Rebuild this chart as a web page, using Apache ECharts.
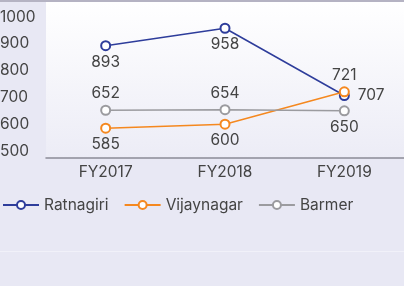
<!DOCTYPE html>
<html><head><meta charset="utf-8">
<script src="https://cdn.jsdelivr.net/npm/echarts@6/dist/echarts.min.js"></script>
<style>html,body{margin:0;padding:0;background:#e8e8f4;}#c{width:404px;height:286px;}</style>
</head><body><div id="c"></div>
<script>
const categories = ['FY2017', 'FY2018', 'FY2019'];
const ratnagiri = [893, 958, 707];
const vijaynagar = [585, 600, 721];
const barmer = [652, 654, 650];
const yTicks = [500, 600, 700, 800, 900, 1000];

const ratnagiriPos = ['bottom', 'bottom', 'right'];
const vijaynagarPos = ['bottom', 'bottom', 'top'];
const barmerPos = ['top', 'top', 'bottom'];

const FONT = 'Inter';
const FS = 15.5;

function mk(name, vals, pos, color) {
  return {
    name: name, type: 'line',
    data: vals.map((v, i) => ({value: v, label: {position: pos[i], distance: pos[i] === 'right' ? 8 : 3}})),
    symbol: 'emptyCircle', symbolSize: 9,
    lineStyle: {color: color, width: 1.5},
    itemStyle: {color: color, borderWidth: 1.5},
    label: {show: true, color: '#444', fontSize: FS, fontFamily: FONT},
    emphasis: {disabled: true}, animation: false
  };
}

const chart = echarts.init(document.getElementById('c'));
chart.setOption({
  backgroundColor: '#e8e8f4',
  animation: false,
  textStyle: {fontFamily: FONT},
  graphic: [
    {type: 'rect', shape: {x: 46, y: 2, width: 358, height: 156}, z: -10,
     style: {fill: new echarts.graphic.LinearGradient(0, 0, 0, 1, [{offset: 0, color: '#ffffff'}, {offset: 1, color: '#ececf6'}])}},
    {type: 'rect', shape: {x: 0, y: 0, width: 404, height: 2}, z: -5, style: {fill: '#b5b3c3'}},
    {type: 'rect', shape: {x: 0, y: 251, width: 404, height: 1}, z: -5, style: {fill: '#f1f1f9'}}
  ],
  grid: {left: 46, right: 0, top: 17, bottom: 135, containLabel: false, outerBoundsMode: 'none'},
  legend: {
    left: 2, top: 197, padding: 0, itemWidth: 36, itemHeight: 10, itemGap: 15,
    textStyle: {color: '#444', fontSize: FS, fontFamily: FONT},
    data: ['Ratnagiri', 'Vijaynagar', 'Barmer']
  },
  xAxis: {
    type: 'category', data: categories, offset: 7,
    axisLine: {lineStyle: {color: '#8a8a96', width: 1.5}},
    axisTick: {show: false},
    axisLabel: {color: '#444', fontSize: FS, margin: 6}
  },
  yAxis: {
    type: 'value', min: 500, max: 1000, interval: 100,
    axisLine: {show: false}, axisTick: {show: false}, splitLine: {show: false},
    axisLabel: {color: '#444', fontSize: FS, margin: 46, align: 'left', padding: [4, 0, 0, 0],
      formatter: v => String(v)}
  },
  series: [
    mk('Ratnagiri', ratnagiri, ratnagiriPos, '#2e3d9b'),
    mk('Vijaynagar', vijaynagar, vijaynagarPos, '#f5881f'),
    mk('Barmer', barmer, barmerPos, '#9b9b9f')
  ]
});
</script></body></html>
